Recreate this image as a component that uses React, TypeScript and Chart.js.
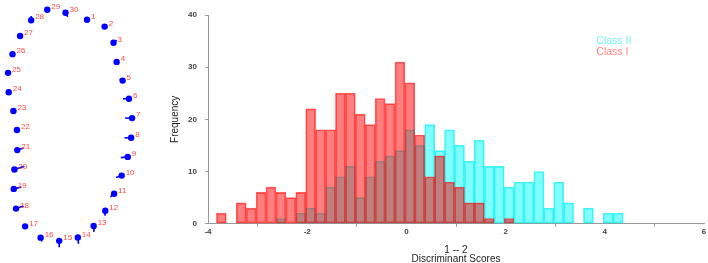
import React, { useEffect, useRef } from 'react';
import { Chart, registerables } from 'chart.js';

Chart.register(...registerables);

const FONT = 'Liberation Sans, Arial, Helvetica, sans-serif';

// ---- Left panel: 30 landmarks with short direction stems ----
const landmarkLabels = ['1','2','3','4','5','6','7','8','9','10','11','12','13','14','15','16','17','18','19','20','21','22','23','24','25','26','27','28','29','30'];
const landmarkX = [87.7,106.3,115.7,119,125.3,132,135.3,134.3,130.7,124.3,116.3,107,94.7,78,58.3,38.7,22.3,12.7,10.3,11,14,13.7,10,5,4.3,9,17,28.7,45.7,65];
const landmarkY = [16.3,23.3,40,59.7,79,97.7,117.7,138,157.7,177,195.7,213.3,229,240.7,244.3,241,229.3,211,190.7,170.7,150.7,130,110.3,91,71,51.7,33,16.7,6,9];
const stemDX = [0,0,3.3,0,-3,-6.3,-7.3,-7,-7.3,-6,-4,-0.3,0.3,0.7,0,1.3,3,8,8,10.7,6.7,0,-3,0,0,-1,0,0,0,2.3];
const stemDY = [0,0,-2.7,-2,-1.7,0,0,0,0.7,2,3.3,5,6,6.7,6.7,4,0,-2.7,-2,-3.3,-2.3,0,-1,0,0,-2,-3,-4.3,0,4.3];

// ---- Right panel: histogram of discriminant scores ----
const binStart = -3.83;
const binWidth = 0.2;
const classICounts = [2,0,4,3,6,7,6,5,6,22,18,18,25,25,21,19,24,23,31,27,17,9,13,8,7,4,4,1,0,1,0,0,0,0,0,0,0,0,0,0,0];
const classIICounts = [0,0,0,0,0,0,1,0,2,3,2,7,9,11,5,9,12,13,14,18,15,19,14,18,15,12,16,11,11,7,8,8,10,3,8,4,0,3,0,2,2];
const xTicks = [-4, -2, 0, 2, 4, 6];
const yTicks = [0, 10, 20, 30, 40];
const seriesNames = ['Class II', 'Class I'];
const xTitle = ['1 -- 2', 'Discriminant Scores'];
const yTitle = 'Frequency';

function binData(counts: number[]) {
  return counts
    .map((c, i) => ({ x: binStart + binWidth * (i + 0.5), y: c }))
    .filter((p) => p.y > 0);
}

const landmarkLabelPlugin = {
  id: 'landmarkLabels',
  afterDatasetsDraw(chart: any) {
    const { ctx, scales } = chart;
    ctx.save();
    ctx.font = `8px ${FONT}`;
    ctx.fillStyle = 'rgba(255,40,40,0.85)';
    ctx.textAlign = 'left';
    ctx.textBaseline = 'middle';
    landmarkLabels.forEach((lab, i) => {
      const px = scales.x.getPixelForValue(landmarkX[i]);
      const py = scales.y.getPixelForValue(landmarkY[i]);
      ctx.fillText(lab, px + 4, py - 3);
    });
    ctx.restore();
  },
};

const classLegendPlugin = {
  id: 'classLegend',
  afterDatasetsDraw(chart: any) {
    const { ctx, scales } = chart;
    ctx.save();
    ctx.font = `10.5px ${FONT}`;
    ctx.textAlign = 'left';
    ctx.textBaseline = 'middle';
    const x = scales.x.getPixelForValue(3.83);
    ctx.fillStyle = 'rgba(0,230,230,0.55)';
    ctx.fillText(seriesNames[0], x, scales.y.getPixelForValue(34.9));
    ctx.fillStyle = 'rgba(255,40,40,0.6)';
    ctx.fillText(seriesNames[1], x, scales.y.getPixelForValue(32.8));
    ctx.restore();
  },
};

export default function App() {
  const leftRef = useRef<HTMLCanvasElement>(null);
  const rightRef = useRef<HTMLCanvasElement>(null);

  useEffect(() => {
    const pointData = landmarkX.map((x, i) => ({ x, y: landmarkY[i] }));
    const stemSets: any[] = [];
    landmarkX.forEach((x, i) => {
      if (stemDX[i] === 0 && stemDY[i] === 0) return;
      stemSets.push({
        data: [
          { x, y: landmarkY[i] },
          { x: x + stemDX[i], y: landmarkY[i] + stemDY[i] },
        ],
        showLine: true,
        borderColor: '#0000ff',
        borderWidth: 1.6,
        pointRadius: 0,
        clip: false,
      });
    });

    const left = new Chart(leftRef.current!, {
      type: 'scatter',
      data: {
        datasets: [
          {
            data: pointData,
            backgroundColor: '#0000ff',
            borderColor: '#0000ff',
            pointRadius: 3.2,
            borderWidth: 0,
            clip: false,
          } as any,
          ...stemSets,
        ],
      },
      options: {
        animation: false,
        responsive: true,
        maintainAspectRatio: false,
        layout: { padding: 0 },
        plugins: { legend: { display: false }, tooltip: { enabled: false } },
        scales: {
          x: { type: 'linear', display: false, min: 0, max: 150 },
          y: { type: 'linear', display: false, min: 0, max: 263, reverse: true },
        },
      },
      plugins: [landmarkLabelPlugin],
    });

    const right = new Chart(rightRef.current!, {
      type: 'bar',
      data: {
        datasets: [
          {
            label: seriesNames[1],
            data: binData(classICounts),
            backgroundColor: 'rgba(255,0,0,0.5)',
            borderColor: 'rgba(255,0,0,0.62)',
            borderWidth: 1,
            borderSkipped: false,
            grouped: false,
            barPercentage: 1,
            categoryPercentage: 1,
            order: 1,
          } as any,
          {
            label: seriesNames[0],
            data: binData(classIICounts),
            backgroundColor: 'rgba(0,255,255,0.5)',
            borderColor: 'rgba(0,235,235,0.7)',
            borderWidth: 1,
            borderSkipped: false,
            grouped: false,
            barPercentage: 1,
            categoryPercentage: 1,
            order: 2,
          } as any,
        ],
      },
      options: {
        animation: false,
        responsive: true,
        maintainAspectRatio: false,
        layout: { padding: { left: 15, right: 4, top: 15, bottom: 0 } },
        plugins: { legend: { display: false }, tooltip: { enabled: false } },
        scales: {
          x: {
            type: 'linear',
            min: xTicks[0],
            max: xTicks[xTicks.length - 1],
            offset: false,
            afterBuildTicks: (s: any) => {
              s.ticks = xTicks.map((v) => ({ value: v }));
            },
            afterFit: (s: any) => {
              s.height = 39.3;
            },
            grid: { drawOnChartArea: false, drawTicks: true, tickLength: 3, color: '#999' },
            border: { color: '#999', width: 1 },
            ticks: {
              font: { size: 8, weight: 'bold', family: FONT },
              color: '#444',
              padding: 0,
              maxRotation: 0,
              autoSkip: false,
            },
            title: {
              display: true,
              text: xTitle,
              font: { size: 10, family: FONT, lineHeight: 0.85 },
              color: '#222',
              padding: { top: 0, bottom: 0 },
            },
          },
          y: {
            type: 'linear',
            min: yTicks[0],
            max: yTicks[yTicks.length - 1],
            afterBuildTicks: (s: any) => {
              s.ticks = yTicks.map((v) => ({ value: v }));
            },
            afterFit: (s: any) => {
              s.width = 43;
            },
            grid: { drawOnChartArea: false, drawTicks: true, tickLength: 3, color: '#999' },
            border: { color: '#999', width: 1 },
            ticks: {
              font: { size: 8, weight: 'bold', family: FONT },
              color: '#444',
              padding: 8,
            },
            title: {
              display: true,
              text: yTitle,
              font: { size: 10, family: FONT },
              color: '#222',
              padding: { top: 4, bottom: 0 },
            },
          },
        },
      },
      plugins: [classLegendPlugin],
    });

    return () => {
      left.destroy();
      right.destroy();
    };
  }, []);

  return (
    <div style={{ position: 'fixed', left: 0, top: 0, width: 708, height: 263, background: '#fff' }}>
      <div style={{ position: 'absolute', left: 0, top: 0, width: 150, height: 263 }}>
        <canvas ref={leftRef} />
      </div>
      <div style={{ position: 'absolute', left: 150, top: 0, width: 558, height: 263 }}>
        <canvas ref={rightRef} />
      </div>
    </div>
  );
}
